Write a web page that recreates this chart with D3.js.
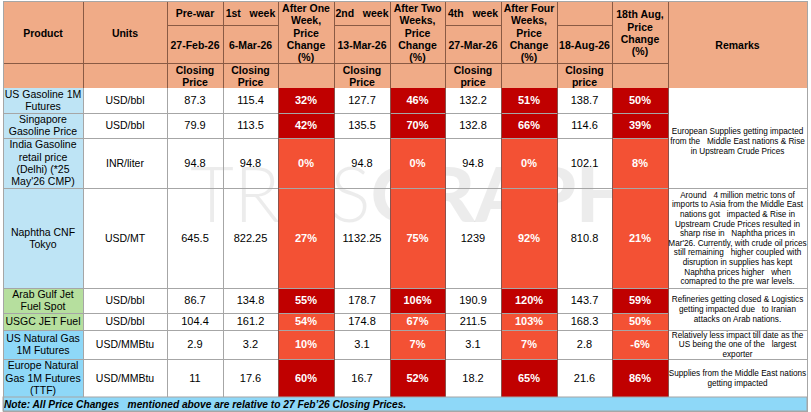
<!DOCTYPE html>
<html>
<head>
<meta charset="utf-8">
<script src="https://cdn.jsdelivr.net/npm/d3@7/dist/d3.min.js"></script>
<style>
  html,body{margin:0;padding:0;background:#fff;}
  svg{display:block;}
  text{font-family:"Liberation Sans", Arial, sans-serif; white-space:pre;}
</style>
</head>
<body>
<svg id="chart" width="811" height="412"></svg>
<script>
// ---------------- DATA ----------------
const products = [
  ["US Gasoline 1M","Futures"],
  ["Singapore","Gasoline Price"],
  ["India Gasoline","retail price","(Delhi) (*25","May'26 CMP)"],
  ["Naphtha CNF","Tokyo"],
  ["Arab Gulf Jet","Fuel Spot"],
  ["USGC JET Fuel"],
  ["US Natural Gas","1M Futures"],
  ["Europe Natural","Gas 1M Futures","(TTF)"]
];
const productGroup = ["gasoline","gasoline","gasoline","gasoline","jet","jet","gas","gas"];
const units   = ["USD/bbl","USD/bbl","INR/liter","USD/MT","USD/bbl","USD/bbl","USD/MMBtu","USD/MMBtu"];
const prewar  = [87.3, 79.9, 94.8, 645.5, 86.7, 104.4, 2.9, 11];
const week1   = [115.4, 113.5, 94.8, 822.25, 134.8, 161.2, 3.2, 17.6];
const chg1    = [32, 42, 0, 27, 55, 54, 10, 60];
const week2   = [127.7, 135.5, 94.8, 1132.25, 178.7, 174.8, 3.1, 16.7];
const chg2    = [46, 70, 0, 75, 106, 67, 7, 52];
const week4   = [132.2, 132.8, 94.8, 1239, 190.9, 211.5, 3.1, 18.2];
const chg4    = [51, 66, 0, 92, 120, 103, 7, 65];
const aug18   = [138.7, 114.6, 102.1, 810.8, 143.7, 168.3, 2.8, 21.6];
const chgAug  = [50, 39, 8, 21, 59, 50, -6, 86];
const severity = ["high","high","mid","mid","high","mid","mid","high"];

const headerTop = [null, null, ["Pre-war"], ["1st   week"], null, ["2nd   week"], null, ["4th   week"], null, [""], null, null];
const headerMid = [null, null, ["27-Feb-26"], ["6-Mar-26"], null, ["13-Mar-26"], null, ["27-Mar-26"], null, ["18-Aug-26"], null, null];
const headerBig = [["Product"], ["Units"], null, null,
  ["After One","Week,","Price","Change","(%)"], null,
  ["After Two","Weeks,","Price","Change","(%)"], null,
  ["After Four","Weeks,","Price","Change","(%)"], null,
  ["18th Aug,","Price","Change","(%)"], ["Remarks"]];
const headerSub = [[""], [""], ["Closing","Price"], ["Closing","Price"], [""], ["Closing","Price"], [""], ["Closing","price"], [""], ["Closing","price"], [""], null];

const remarks = [
  {from:0, to:2, lines:["European Supplies getting impacted","from the   Middle East nations & Rise","in Upstream Crude Prices"], dy:3},
  {from:3, to:3, lines:["Around   4 million metric tons of","imports to Asia from the Middle East","nations got   impacted & Rise in","Upstream Crude Prices resulted in","sharp rise in   Naphtha prices in","Mar'26. Currently, with crude oil prices","still remaining   higher coupled with","disruption in supplies has kept","Naphtha prices higher   when","comapred to the pre war levels."], dy:0},
  {from:4, to:5, lines:["Refineries getting closed & Logistics","getting impacted due   to Iranian","attacks on Arab nations."], dy:0},
  {from:6, to:6, lines:["Relatively less impact till date as the","US being the one of the   largest","exporter"], dy:0},
  {from:7, to:7, lines:["Supplies from the Middle East nations","getting impacted"], dy:0}
];
const note = "Note: All Price Changes   mentioned above are relative to 27 Feb\u201926 Closing Prices.";

// ---------------- LAYOUT ----------------
const colKeys = ["product","units","prewar","week1","chg1","week2","chg2","week4","chg4","aug18","chgAug","remarks"];
const colWidths = [80, 84, 56, 55, 56, 56, 55, 56, 56, 55, 56, 139];
const x0 = 3;
const colEdges = [x0, ...d3.cumsum(colWidths).map(v => v + x0)];
const xL = d3.scaleOrdinal().domain(colKeys).range(colEdges.slice(0, -1));
const xW = d3.scaleOrdinal().domain(colKeys).range(colWidths);

const headEdges = [1, 25, 63, 88];
const rowHeights = [25, 25, 50, 100, 25, 17, 29, 38];
const bodyTop = 88;
const rowEdges = [bodyTop, ...d3.cumsum(rowHeights).map(v => v + bodyTop)];
const rowIdx = d3.range(products.length);
const yT = d3.scaleOrdinal().domain(rowIdx).range(rowEdges.slice(0, -1));
const yH = d3.scaleOrdinal().domain(rowIdx).range(rowHeights);
const tableRight = colEdges[colEdges.length - 1];
const noteTop = rowEdges[rowEdges.length - 1];
const noteBottom = 411;

const colors = {
  header: "#F0AB87", headerLine: "#8a5a44", grid: "#a6a6a6",
  gasoline: "#BEE4F5", jet: "#B6DF9E", gas: "#8ED8F8",
  high: "#C00000", mid: "#F35134", note: "#8ED8F8"
};
const sevColor = d3.scaleOrdinal().domain(["high","mid"]).range([colors.high, colors.mid]);
const grpColor = d3.scaleOrdinal().domain(["gasoline","jet","gas"]).range([colors.gasoline, colors.jet, colors.gas]);

const svg = d3.select("#chart");

// text helper: multi-line centered
function multiText(g, lines, cx, cy, opt) {
  const lh = opt.lh, n = lines.length;
  const t = g.append("text")
    .attr("text-anchor", opt.anchor || "middle")
    .attr("font-size", opt.size)
    .attr("font-weight", opt.weight || "normal")
    .attr("font-style", opt.style || "normal")
    .attr("fill", opt.fill || "#000");
  lines.forEach((ln, i) => {
    t.append("tspan").attr("x", cx)
      .attr("y", cy + (i - (n - 1) / 2) * lh + opt.size * 0.36)
      .text(ln);
  });
  return t;
}

// ---------------- HEADER ----------------
const gH = svg.append("g");
gH.append("rect").attr("x", x0).attr("y", headEdges[0]).attr("width", tableRight - x0).attr("height", headEdges[3] - headEdges[0]).attr("fill", colors.header);

const hOpt = {size: 10.5, weight: "bold", lh: 12.3};
colKeys.forEach((k, i) => {
  const cx = xL(k) + xW(k) / 2;
  if (headerTop[i]) {
    multiText(gH, headerTop[i], cx, (headEdges[0] + headEdges[1]) / 2, hOpt);
    multiText(gH, headerMid[i], cx, (headEdges[1] + headEdges[2]) / 2 + 1, hOpt);
  }
  if (headerBig[i]) {
    const bottom = k === "remarks" ? headEdges[3] : headEdges[2];
    multiText(gH, headerBig[i], cx, (headEdges[0] + bottom) / 2 + 1, hOpt);
  }
  if (headerSub[i]) {
    multiText(gH, headerSub[i], cx, (headEdges[2] + headEdges[3]) / 2 + 1, hOpt);
  }
});

// header lines
const hl = gH.append("g").attr("stroke", colors.headerLine).attr("stroke-width", 1).attr("fill", "none");
colEdges.forEach(xe => hl.append("line").attr("x1", xe + 0.5).attr("x2", xe + 0.5).attr("y1", headEdges[0]).attr("y2", headEdges[3]));
colKeys.forEach((k, i) => {
  if (k === "remarks") return;
  hl.append("line").attr("x1", xL(k)).attr("x2", xL(k) + xW(k)).attr("y1", headEdges[2] + 0.5).attr("y2", headEdges[2] + 0.5);
  if (headerTop[i]) hl.append("line").attr("x1", xL(k)).attr("x2", xL(k) + xW(k)).attr("y1", headEdges[1] + 0.5).attr("y2", headEdges[1] + 0.5);
});
hl.append("line").attr("x1", x0).attr("x2", tableRight).attr("y1", headEdges[0] + 0.5).attr("y2", headEdges[0] + 0.5);

// ---------------- BODY ----------------
const gB = svg.append("g");
gB.append("rect").attr("x", x0).attr("y", bodyTop).attr("width", tableRight - x0).attr("height", noteTop - bodyTop).attr("fill", "#fff");

// watermark
const wm = gB.append("text").attr("x", 190).attr("y", 222).attr("font-size", 76)
  .style("font-family", "Lato, 'Open Sans', sans-serif").attr("fill", "#000").attr("fill-opacity", 0.075);
wm.append("tspan").attr("font-weight", 300).text("TRAS");
wm.append("tspan").attr("font-weight", 900).text("GRAPH");

// product cells
gB.selectAll("rect.prod").data(rowIdx).join("rect").attr("class", "prod")
  .attr("x", xL("product")).attr("y", d => yT(d)).attr("width", xW("product")).attr("height", d => yH(d))
  .attr("fill", d => grpColor(productGroup[d]));

// change cells
const chgCols = [["chg1", chg1], ["chg2", chg2], ["chg4", chg4], ["chgAug", chgAug]];
chgCols.forEach(([k, arr]) => {
  gB.selectAll("rect.c-" + k).data(rowIdx).join("rect").attr("class", "c-" + k)
    .attr("x", xL(k)).attr("y", d => yT(d)).attr("width", xW(k)).attr("height", d => yH(d))
    .attr("fill", d => sevColor(severity[d]));
});

// grid lines
const gl = gB.append("g").attr("stroke", colors.grid).attr("stroke-width", 1);
colEdges.forEach(xe => gl.append("line").attr("x1", xe + 0.5).attr("x2", xe + 0.5).attr("y1", bodyTop).attr("y2", noteTop));
rowIdx.forEach(r => {
  const yb = yT(r) + yH(r);
  const merged = remarks.some(m => r >= m.from && r < m.to);
  const xr = merged ? xL("remarks") : tableRight;
  gl.append("line").attr("x1", x0).attr("x2", xr).attr("y1", yb + 0.5).attr("y2", yb + 0.5);
});
// darker edges around change columns
const dl = gB.append("g").attr("stroke", "#7a1a10").attr("stroke-width", 1).attr("stroke-opacity", 0.6);
chgCols.forEach(([k]) => {
  [xL(k), xL(k) + xW(k)].forEach(xe => dl.append("line").attr("x1", xe + 0.5).attr("x2", xe + 0.5).attr("y1", bodyTop).attr("y2", noteTop));
});

// texts
const tOpt = {size: 10.5, lh: 12.3};
rowIdx.forEach(r => {
  const cy = yT(r) + yH(r) / 2;
  multiText(gB, products[r], xL("product") + xW("product") / 2, cy, tOpt);
  multiText(gB, [units[r]], xL("units") + xW("units") / 2, cy, tOpt);
  [["prewar", prewar], ["week1", week1], ["week2", week2], ["week4", week4], ["aug18", aug18]].forEach(([k, arr]) => {
    multiText(gB, [String(arr[r])], xL(k) + xW(k) / 2, cy, {size: 11, lh: 12.3});
  });
  chgCols.forEach(([k, arr]) => {
    multiText(gB, [arr[r] + "%"], xL(k) + xW(k) / 2, cy, {size: 11, lh: 12, weight: "bold", fill: "#fff"});
  });
});

// remarks
remarks.forEach(m => {
  const top = yT(m.from), bot = yT(m.to) + yH(m.to);
  multiText(gB, m.lines, xL("remarks") + xW("remarks") / 2, (top + bot) / 2 + m.dy, {size: 8.2, lh: 9.6});
});

// ---------------- NOTE ----------------
svg.append("rect").attr("x", x0).attr("y", noteTop).attr("width", tableRight - x0).attr("height", noteBottom - noteTop)
  .attr("fill", colors.note).attr("stroke", colors.grid);
svg.append("text").attr("x", x0 + 1).attr("y", noteTop + 11).attr("font-size", 10.2).attr("font-weight", "bold")
  .attr("font-style", "italic").text(note);

// outer border
svg.append("rect").attr("x", x0 + 0.5).attr("y", headEdges[0] + 0.5).attr("width", tableRight - x0).attr("height", noteBottom - headEdges[0])
  .attr("fill", "none").attr("stroke", colors.grid);
</script>
</body>
</html>
